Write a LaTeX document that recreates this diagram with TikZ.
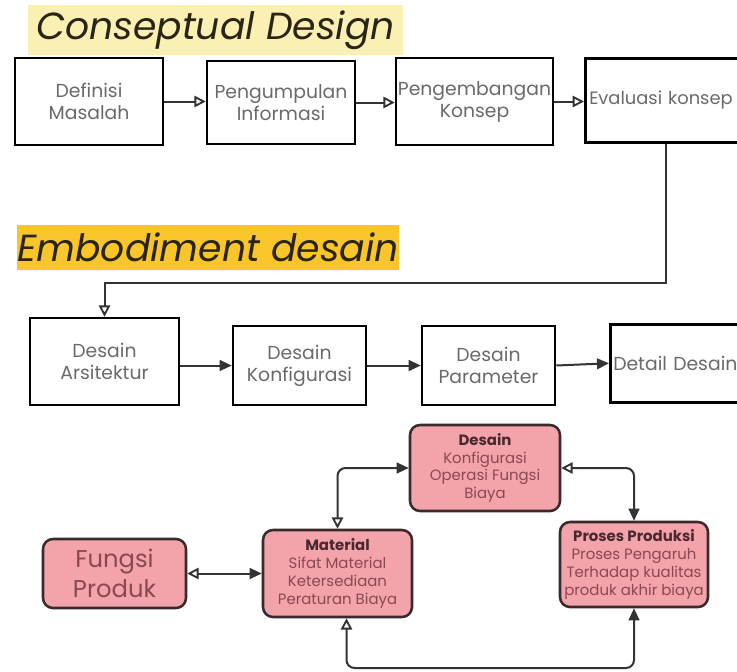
\documentclass[tikz,border=0pt]{standalone}
\usepackage{fontspec}
\setmainfont{Poppins}
\usetikzlibrary{arrows.meta}
\definecolor{pinkfill}{HTML}{F3A3AA}
\definecolor{pinkline}{HTML}{3A2A2C}
\definecolor{pinktext}{HTML}{8A4853}
\definecolor{pinkhead}{HTML}{4A2830}
\definecolor{boxtext}{HTML}{6A6A6A}
\definecolor{paleyellow}{HTML}{FBF0B4}
\definecolor{goldyellow}{HTML}{F8C62A}
\definecolor{titleink}{HTML}{2A2414}
\definecolor{wire}{HTML}{333333}
\begin{document}
\begin{tikzpicture}[x=0.75pt,y=-0.75pt,
  box/.style={draw=black, line width=1.9pt, fill=white, text=boxtext, align=center,
    inner sep=0pt, font=\fontsize{14.1}{16.5}\selectfont},
  pbox/.style={draw=pinkline, line width=1.9pt, fill=pinkfill, rounded corners=7.5pt,
    text=pinktext, align=center, inner sep=0pt, font=\fontsize{11.2}{13.3}\selectfont},
  title/.style={inner sep=0pt, text=titleink, font=\fontsize{28.3}{32}\selectfont\itshape},
  conn/.style={draw=wire, line width=1.5pt},
  hollowend/.style={-{Triangle[open, length=8.5pt, width=8.5pt, line width=1.4pt]}},
  solidend/.style={-{Triangle[length=9pt, width=8pt]}},
  twoway/.style={{Triangle[open, length=8.5pt, width=8.5pt, line width=1.4pt]}-{Triangle[length=9pt, width=8pt]}}
]
\useasboundingbox (0,0) rectangle (737,671);
\clip (0,0) rectangle (737,671);
\fill[white] (0,0) rectangle (737,671);

% section headings
\node[title, fill=paleyellow, minimum width=281.25pt, minimum height=37.5pt] (t1) at (215.5,30) {Conseptual Design};
\node[title, fill=goldyellow, minimum width=277.5pt, minimum height=33.75pt] (t2) at (208,247.5) {Embodiment desain};

% conceptual design steps
\node[box, minimum width=111pt, minimum height=65.25pt] (b1) at (89,101.5) {Definisi\\Masalah};
\node[box, minimum width=111pt, minimum height=62.25pt] (b2) at (281,102.5) {Pengumpulan\\Informasi};
\node[box, minimum width=117.75pt, minimum height=65.25pt] (b3) at (474.5,101.5) {Pengembangan\\Konsep};
\node[box, anchor=north west, inner xsep=3pt, text width=127.5pt, align=left, minimum height=63pt,
  font=\fontsize{13.4}{16}\selectfont] (b4) at (584,57) {Evaluasi konsep};

% embodiment design steps
\node[box, minimum width=111.75pt, minimum height=65.25pt] (d1) at (104.5,361.5) {Desain\\Arsitektur};
\node[box, minimum width=99.75pt, minimum height=59.25pt] (d2) at (299.5,365.5) {Desain\\Konfigurasi};
\node[box, minimum width=99.75pt, minimum height=59.25pt] (d3) at (488.5,365.5) {Desain\\Parameter};
\node[box, anchor=north west, inner xsep=2.25pt, text width=112.5pt, align=left, minimum height=58.5pt] (d4) at (609,323) {Detail Desain};

% interacting factors
\node[pbox, minimum width=112.5pt, minimum height=64.5pt] (desain) at (485,468)
  {{\bfseries\color{pinkhead}Desain}\\Konfigurasi\\Operasi Fungsi\\Biaya};
\node[pbox, minimum width=111.75pt, minimum height=65.25pt] (material) at (337.5,573.5)
  {{\bfseries\color{pinkhead}Material}\\Sifat Material\\Ketersediaan\\Peraturan Biaya};
\node[pbox, minimum width=111pt, minimum height=63.75pt] (proses) at (634,564.5)
  {{\bfseries\color{pinkhead}Proses Produksi}\\Proses Pengaruh\\Terhadap kualitas\\produk akhir biaya};
\node[pbox, minimum width=107.25pt, minimum height=51.75pt, font=\fontsize{18.2}{22.5}\selectfont] (fungsi) at (114.5,573.5)
  {Fungsi\\Produk};

% connectors: conceptual chain
\draw[conn, hollowend] (b1.east) -- (b1.east -| b2.west);
\draw[conn, hollowend] (b2.east) -- (b2.east -| b3.west);
\draw[conn, hollowend] (b3.east) -- (b3.east -| b4.west);
\coordinate (drop) at (666,283);
\draw[conn, hollowend] (drop |- b4.south) -- (drop) -- (drop -| d1.north) -- (d1.north);

% connectors: embodiment chain
\draw[conn, solidend] (d2.west -| d1.east) -- (d2.west);
\draw[conn, solidend] (d2.east) -- (d3.west);
\draw[conn, solidend] (d3.east) -- (d4.west);

% connectors: factor loop
\draw[conn, twoway] (fungsi.east) -- (material.west);
\draw[conn, twoway, rounded corners=6pt] (material.north) |- (desain.west);
\draw[conn, twoway, rounded corners=6pt] (desain.east) -| (proses.north);
\coordinate (loop) at (0,668);
\draw[conn, twoway, rounded corners=6pt] ([xshift=6.75pt]material.south) |- (loop -| proses.south) -- (proses.south);
\end{tikzpicture}
\end{document}
